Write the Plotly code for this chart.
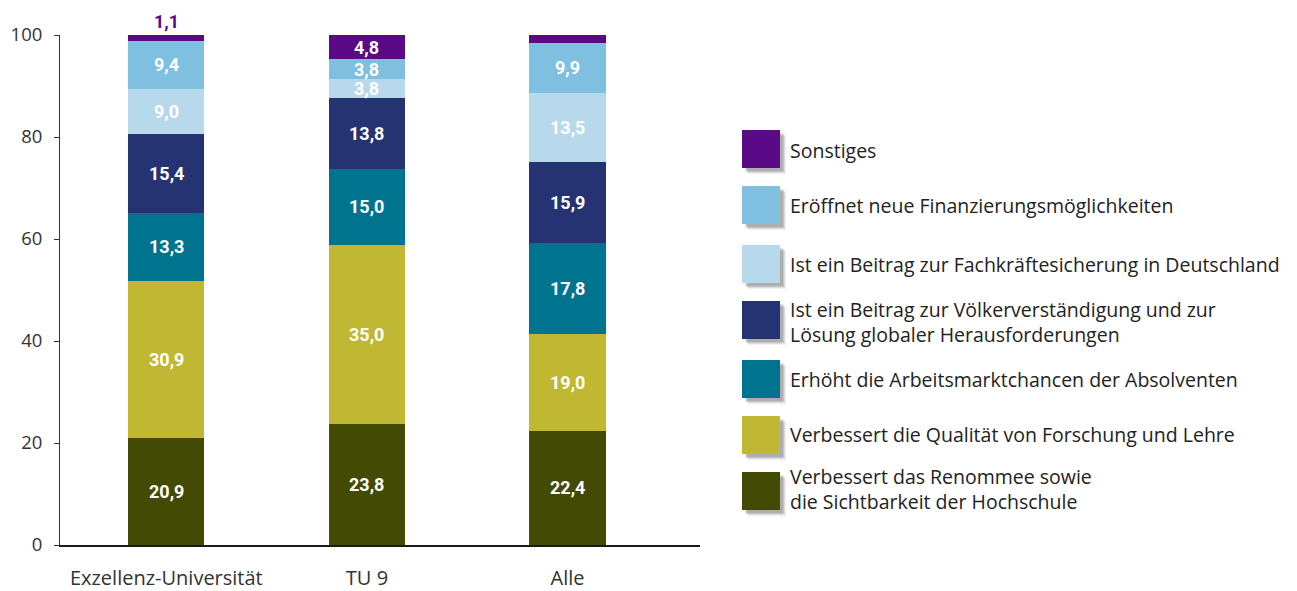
import plotly.graph_objects as go

categories = ["Exzellenz-Universität", "TU 9", "Alle"]

series_names = [
    "Verbessert das Renommee sowie<br>die Sichtbarkeit der Hochschule",
    "Verbessert die Qualität von Forschung und Lehre",
    "Erhöht die Arbeitsmarktchancen der Absolventen",
    "Ist ein Beitrag zur Völkerverständigung und zur<br>Lösung globaler Herausforderungen",
    "Ist ein Beitrag zur Fachkräftesicherung in Deutschland",
    "Eröffnet neue Finanzierungsmöglichkeiten",
    "Sonstiges",
]
renommee = [20.9, 23.8, 22.4]
qualitaet = [30.9, 35.0, 19.0]
arbeitsmarkt = [13.3, 15.0, 17.8]
voelker = [15.4, 13.8, 15.9]
fachkraefte = [9.0, 3.8, 13.5]
finanzierung = [9.4, 3.8, 9.9]
sonstiges = [1.1, 4.8, 1.5]

series_values = [renommee, qualitaet, arbeitsmarkt, voelker, fachkraefte, finanzierung, sonstiges]
colors = ["#434a04", "#c0b833", "#00738f", "#253372", "#b8d8ec", "#7fbfe0", "#5b0a87"]
y_ticks = [0, 20, 40, 60, 80, 100]

FONT = "Open Sans"
BOLD = "Roboto, Open Sans"
fig = go.Figure()

for name, vals, col in zip(series_names, series_values, colors):
    fig.add_trace(go.Bar(x=categories, y=vals, name=name, marker=dict(color=col, line=dict(width=0)),
                         width=0.38, showlegend=False, hoverinfo="y"))

def fmt(v):
    return f"{v:.1f}".replace(".", ",")

annotations = []
cum = [0.0, 0.0, 0.0]
for si, vals in enumerate(series_values):
    for ci, v in enumerate(vals):
        base = cum[ci]
        if si == len(series_values) - 1 and v < 3:
            annotations.append(dict(x=categories[ci], y=base + v, xref="x", yref="y", text=fmt(v),
                                    showarrow=False, yanchor="bottom", yshift=1,
                                    font=dict(family=BOLD, size=18, color="#5b0a87", weight="bold")))
        else:
            annotations.append(dict(x=categories[ci], y=base + v / 2, xref="x", yref="y", text=fmt(v),
                                    showarrow=False, yanchor="middle",
                                    font=dict(family=BOLD, size=18, color="white", weight="bold")))
        cum[ci] += v

# custom legend (pixel positions converted to paper coords)
L, R, T, B = 60, 700, 35, 545
W, H = R - L, B - T
def px(x):
    return (x - L) / W
def py(y):
    return (B - y) / H

legend_centers = [491, 435, 379, 320, 264, 205, 149]
legend_text_centers = [489.5, 434, 379, 322, 264, 205, 150]
shapes = []
for name, col, cy, ty in zip(series_names, colors, legend_centers, legend_text_centers):
    x0, x1 = 742, 780
    y0, y1 = cy - 19, cy + 19
    for off, op in [(6, 0.06), (5, 0.08), (4, 0.10), (3, 0.12)]:
        shapes.append(dict(type="rect", xref="paper", yref="paper", x0=px(x0 + off), x1=px(x1 + off),
                           y0=py(y1 + off), y1=py(y0 + off), fillcolor=f"rgba(0,0,0,{op})",
                           line=dict(width=0), layer="above"))
    shapes.append(dict(type="rect", xref="paper", yref="paper", x0=px(x0), x1=px(x1),
                       y0=py(y1), y1=py(y0), fillcolor=col, line=dict(width=0), layer="above"))
    annotations.append(dict(x=px(788), y=py(ty), xref="paper", yref="paper",
                            text=name, showarrow=False, xanchor="left",
                            yanchor="middle", align="left",
                            font=dict(family=FONT, size=19.5, color="#222222")))

fig.update_layout(
    barmode="stack",
    width=1297, height=591,
    margin=dict(l=L, r=1297 - R, t=T, b=591 - B, autoexpand=False),
    paper_bgcolor="white", plot_bgcolor="white",
    font=dict(family=FONT, size=17, color="#333333"),
    annotations=annotations,
    shapes=shapes,
    bargap=0,
)
fig.update_xaxes(range=[-0.53, 2.66], showline=True, linewidth=2, linecolor="#1a1a1a",
                 ticks="", ticklabelstandoff=14, tickfont=dict(size=20, color="#333333"),
                 showgrid=False, zeroline=False, automargin=False)
fig.update_yaxes(range=[0, 100], tickvals=y_ticks, showline=True, linewidth=1, linecolor="#333333",
                 ticks="outside", ticklen=5, tickcolor="#333333", ticklabelstandoff=8,
                 tickfont=dict(size=18.5, color="#333333"), showgrid=False, zeroline=False,
                 automargin=False)

fig.write_html("out.html", config={"displayModeBar": False},
               post_script="document.body.style.margin='0px';document.body.style.overflow='hidden';")
